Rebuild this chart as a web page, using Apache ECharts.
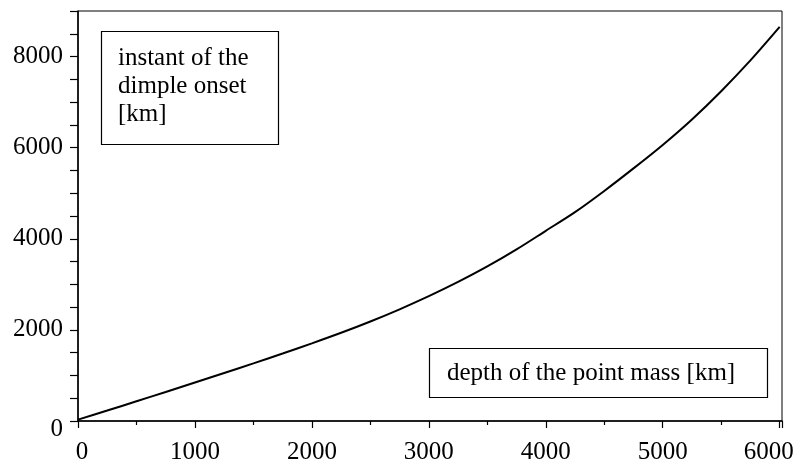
<!DOCTYPE html>
<html>
<head>
<meta charset="utf-8">
<script src="https://cdn.jsdelivr.net/npm/echarts@6/dist/echarts.min.js"></script>
<style>
  html, body { margin: 0; padding: 0; background: #fff; }
  #chart { width: 798px; height: 465px; }
</style>
</head>
<body>
<div id="chart"></div>
<script>
(function(){
  // depth of the point mass [km]
  var depth = [0, 250, 500, 750, 1000, 1250, 1500, 1750, 2000, 2250, 2500, 2750, 3000,
               3250, 3500, 3750, 4000, 4250, 4500, 4750, 5000, 5250, 5500, 5750, 6000];
  // instant of the dimple onset [km]
  var onset = [30, 230, 432, 637, 845, 1053, 1264, 1481, 1705, 1937, 2185, 2452, 2740,
               3052, 3392, 3767, 4175, 4585, 5050, 5545, 6060, 6620, 7240, 7915, 8650];
  var yLabels = [0, 2000, 4000, 6000, 8000];
  var xLabels = [0, 1000, 2000, 3000, 4000, 5000, 6000];

  var serif = 'Liberation Serif';
  var points = depth.map(function (d, i) { return [d, onset[i]]; });

  var myChart = echarts.init(document.getElementById('chart'));
  var option = {
    backgroundColor: '#fff',
    animation: false,
    grid: {
      left: 78, right: 16, top: 11, bottom: 44,
      show: true, borderColor: '#000', borderWidth: 1
    },
    title: [
      {
        text: 'instant of the\ndimple onset\n[km]',
        left: 101, top: 31,
        padding: [13, 30, 17, 17],
        borderColor: '#000', borderWidth: 1.2,
        textStyle: { fontFamily: serif, fontSize: 25, fontWeight: 'normal', color: '#000', lineHeight: 28 }
      },
      {
        text: 'depth of the point mass [km]',
        left: 429, top: 348,
        padding: [11, 33, 11, 18],
        borderColor: '#000', borderWidth: 1.2,
        textStyle: { fontFamily: serif, fontSize: 25, fontWeight: 'normal', color: '#000', lineHeight: 28 }
      }
    ],
    xAxis: {
      type: 'value',
      min: 0, max: 6020, interval: 1000,
      splitLine: { show: false },
      axisLine: { lineStyle: { color: '#000', width: 1.5 } },
      axisTick: { length: 7, lineStyle: { color: '#000', width: 1.2 } },
      minorTick: { show: true, splitNumber: 2, length: 4, lineStyle: { color: '#000', width: 1.2 } },
      axisLabel: {
        margin: 19,
        fontFamily: serif, fontSize: 25, color: '#000',
        formatter: function (v) {
          if (xLabels.indexOf(v) < 0) return '';
          if (v === 0) return '{l|0}';
          if (v === 6000) return '{r|6000}';
          return String(v);
        },
        rich: {
          l: { fontFamily: serif, fontSize: 25, color: '#000', padding: [0, 0, 0, 8] },
          r: { fontFamily: serif, fontSize: 25, color: '#000', padding: [0, 22, 0, 0] }
        }
      }
    },
    yAxis: {
      type: 'value',
      min: 0, max: 9000, interval: 500,
      splitLine: { show: false },
      axisLine: { lineStyle: { color: '#000', width: 1.5 } },
      axisTick: { length: 8, lineStyle: { color: '#000', width: 1.2 } },
      axisLabel: {
        margin: 15,
        fontFamily: serif, fontSize: 25, color: '#000',
        formatter: function (v) {
          if (yLabels.indexOf(v) < 0) return '';
          if (v === 0) return '{z|0}';
          return String(v);
        },
        rich: {
          z: { fontFamily: serif, fontSize: 25, color: '#000', padding: [16, 0, 0, 0] }
        }
      }
    },
    series: [
      {
        type: 'line',
        data: points,
        smooth: 0.3,
        showSymbol: false,
        lineStyle: { color: '#000', width: 2 }
      }
    ]
  };
  myChart.setOption(option);
  window.addEventListener("resize", function() {
    myChart.resize();
  });
})();
</script>
</body>
</html>
